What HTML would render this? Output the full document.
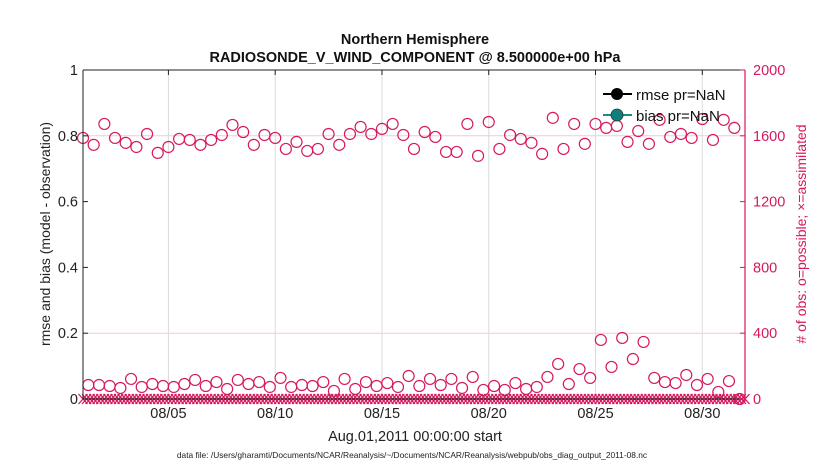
<!DOCTYPE html>
<html><head><meta charset="utf-8"><style>
body{margin:0;background:#fff;}
svg text{font-family:"Liberation Sans",Arial,sans-serif;}
</style></head><body>
<svg id="chart" width="830" height="470" xmlns="http://www.w3.org/2000/svg">
<rect width="830" height="470" fill="#fff"/>
<g id="grid"></g>
<g id="marks"></g>
<g id="axes"></g>
<text x="415" y="44" text-anchor="middle" font-size="14.5" font-weight="bold" fill="#111">Northern Hemisphere</text>
<text x="415" y="62" text-anchor="middle" font-size="14.5" font-weight="bold" fill="#111">RADIOSONDE_V_WIND_COMPONENT @ 8.500000e+00 hPa</text>
<text x="415" y="441" text-anchor="middle" font-size="14.5" fill="#222">Aug.01,2011 00:00:00 start</text>
<text x="412" y="458" text-anchor="middle" font-size="8.4" fill="#222">data file: /Users/gharamti/Documents/NCAR/Reanalysis/~/Documents/NCAR/Reanalysis/webpub/obs_diag_output_2011-08.nc</text>
<text transform="translate(50,234) rotate(-90)" text-anchor="middle" font-size="14" fill="#222">rmse and bias (model - observation)</text>
<text transform="translate(806,234) rotate(-90)" text-anchor="middle" font-size="14" fill="#d6185e">&#35; of obs: o=possible; ×=assimilated</text>
<g>
<g>
<line x1="603" y1="94" x2="632" y2="94" stroke="#000" stroke-width="2"/>
<circle cx="617" cy="94" r="6" fill="#000"/>
<text x="636" y="100" font-size="15" fill="#111">rmse pr=NaN</text>
</g>
<g>
<line x1="603" y1="115" x2="632" y2="115" stroke="#1a8a8a" stroke-width="2"/>
<circle cx="617" cy="115" r="6" fill="#0d7f7f" stroke="#333" stroke-width="0.8"/>
<text x="636" y="121" font-size="15" fill="#111">bias pr=NaN</text>
</g>
</g>
</svg>
<script>
const possibleCounts=[1587,1545,1672,1587,1557,1532,1611,1496,1532,1581,1575,1545,1575,1605,1666,1623,1545,1605,1587,1520,1563,1508,1520,1611,1545,1611,1654,1611,1642,1672,1605,
1520,1623,1593,1502,1502,1672,1478,1684,1520,1605,1581,1557,1490,1709,1520,1672,1551,1672,1648,1660,1563,1629,1551,1697,1593,1611,1587,1702,1575,1697,1648];
const usedCounts=[85,85,79,67,122,73,91,79,73,91,116,79,103,61,116,91,103,73,128,73,85,79,103,49,122,61,103,79,97,73,140,
79,122,85,122,67,134,55,79,55,97,61,73,134,213,91,182,128,359,195,371,243,347,128,103,97,146,85,122,43,109,0];
const assimilatedCount=0;
const leftTicks=[0,0.2,0.4,0.6,0.8,1];
const leftTickLabels=["0","0.2","0.4","0.6","0.8","1"];
const rightTicks=[0,400,800,1200,1600,2000];
const dateTicks=[4,9,14,19,24,29];
const dateTickLabels=["08/05","08/10","08/15","08/20","08/25","08/30"];

const NS="http://www.w3.org/2000/svg";
const X0=83,X1=745,Y0=399,Y1=70,T0=0,T1=31;
const xs=t=>X0+(t-T0)/(T1-T0)*(X1-X0);
const yL=v=>Y0-v*(Y0-Y1);
const yR=v=>Y0-v/2000*(Y0-Y1);
const PINK="#d6185e";
function mk(tag,attrs,parent){const e=document.createElementNS(NS,tag);for(const k in attrs)e.setAttribute(k,attrs[k]);parent.appendChild(e);return e;}
const grid=document.getElementById('grid'),marks=document.getElementById('marks'),axes=document.getElementById('axes');

dateTicks.forEach((d,i)=>{
  const x=xs(d);
  const g=mk('line',{x1:x,y1:Y1,x2:x,y2:Y0,stroke:'#dcdcdc','stroke-width':1},grid);
  
  
  mk('line',{x1:x,y1:Y1,x2:x,y2:Y1+5,stroke:'#222'},axes);
  const t=mk('text',{x:x,y:418,'text-anchor':'middle','font-size':14.5,fill:'#222'},axes);
  t.textContent=dateTickLabels[i];
  
  
});
[400,1600].forEach(v=>{
  const g=mk('line',{x1:X0,y1:yR(v),x2:X1,y2:yR(v),stroke:'#f3c9d8','stroke-width':1},grid);
  
  
});

// assimilated crosses
for(let k=0;k<=186;k++){
  const t=k/6, x=xs(t), y=yR(assimilatedCount);
  const c=mk('path',{d:`M${x-4.5},${y-5}L${x+4.5},${y+5}M${x-4.5},${y+5}L${x+4.5},${y-5}`,stroke:PINK,'stroke-width':1.3,fill:'none'},marks);
  
  
}
possibleCounts.forEach((v,i)=>{
  const c=mk('circle',{cx:xs(i*0.5),cy:yR(v),r:5.5,fill:'none',stroke:PINK,'stroke-width':1.2},marks);
  
  
});
usedCounts.forEach((v,i)=>{
  const c=mk('circle',{cx:xs(0.25+i*0.5),cy:yR(v),r:5.5,fill:'none',stroke:PINK,'stroke-width':1.2},marks);
  
  
});

let a=mk('line',{x1:X0,y1:Y1,x2:X0,y2:Y0,stroke:'#222','stroke-width':1},axes);

a=mk('line',{x1:X0,y1:Y1,x2:X1,y2:Y1,stroke:'#222','stroke-width':1},axes);

a=mk('line',{x1:X0,y1:Y0,x2:X1,y2:Y0,stroke:'#222','stroke-width':1},axes);

a=mk('line',{x1:X1,y1:Y1,x2:X1,y2:Y0,stroke:PINK,'stroke-width':1.2},axes);


leftTicks.forEach((v,i)=>{
  const y=yL(v);
  mk('line',{x1:X0,y1:y,x2:X0+5,y2:y,stroke:'#222'},axes);
  const t=mk('text',{x:X0-5,y:y+5,'text-anchor':'end','font-size':14.5,fill:'#222'},axes);
  t.textContent=leftTickLabels[i];
  
  
});
rightTicks.forEach(v=>{
  const y=yR(v);
  mk('line',{x1:X1-5,y1:y,x2:X1,y2:y,stroke:PINK},axes);
  const t=mk('text',{x:X1+8,y:y+5,'font-size':14.5,fill:PINK},axes);
  t.textContent=String(v);
  
  
});
</script>
</body></html>
